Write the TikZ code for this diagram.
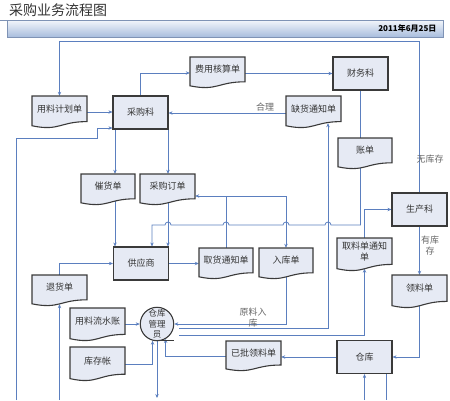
\documentclass[tikz,border=0pt]{standalone}
\usepackage{fontspec}
\newfontfamily\cjk{Noto Sans CJK SC}
\usetikzlibrary{arrows.meta,calc,backgrounds}
\definecolor{conn}{HTML}{5B7FBF}
\definecolor{nfill}{HTML}{E6EAF4}
\definecolor{nline}{HTML}{3A3A3A}
\definecolor{bantop}{HTML}{F3F6FB}
\definecolor{banbot}{HTML}{A8BDDD}
\definecolor{banline}{HTML}{7F93B5}
\tikzset{
 every node/.style={font=\cjk\fontsize{9}{11}\selectfont, text=black!80, align=center},
 boxnode/.style={draw=nline, fill=nfill, line width=1.1pt, minimum width=55pt, minimum height=33pt, inner sep=0pt},
 docfill/.style={draw=nline, fill=nfill, line width=1.1pt},
 docnode/.style={inner sep=0pt},
 arr/.style={draw=conn, line width=0.8pt, -{Stealth[length=4pt,width=3.4pt]}},
 lin/.style={draw=conn, line width=0.8pt},
 lbl/.style={text=black!60, align=center},
}
\newcommand\docshape[6]{%
 \pgfmathsetmacro\dcW{#4-#2}%
 \pgfmathsetmacro\dcH{#5-#3}%
 \path[docfill] (#2,#3) -- (#4,#3) -- ({#4},{#3+0.8*\dcH}) .. controls ({#2+0.5*\dcW},{#3+0.8*\dcH}) and ({#2+0.5*\dcW},{#3+1.11*\dcH}) .. ({#2},{#3+0.93*\dcH}) -- cycle;
 \node[docnode, minimum width=\dcW pt, minimum height=\dcH pt] (#1) at ({(#2+#4)/2},{(#3+#5)/2}) {};
 \node (#1t) at ({(#2+#4)/2},{#3+0.4*\dcH}) {#6};
}
\begin{document}
\begin{tikzpicture}[x=1pt,y=-1pt]
\useasboundingbox (0,0) rectangle (450,400);
% header
\node[font=\cjk\fontsize{14}{16}\selectfont, anchor=west, inner sep=0pt] (title) at (9,10) {采购业务流程图};
\shade[top color=bantop,bottom color=banbot] (7,20) rectangle (443,37);
\draw[banline, line width=0.6pt] (7,20) rectangle (443,37);
\draw[banline, line width=0.6pt] (0,20) -- (7,20);
\node[font=\cjk\bfseries\fontsize{8}{10}\selectfont, anchor=east, text=black] (date) at (440,28.5) {2011年6月25日};

% process boxes
\node[boxnode] (cgk) at (140.5,112.5) {采购科};
\node[boxnode] (cwk) at (360.5,73.5) {财务科};
\node[boxnode] (gys) at (141,263.5) {供应商};
\node[boxnode] (sck) at (419.5,209.5) {生产科};
\node[boxnode] (ck) at (364.5,357) {仓库};
\node[circle, draw=nline, fill=nfill, line width=1.1pt, minimum size=32pt, inner sep=0pt, font=\cjk\fontsize{8.5}{10.5}\selectfont] (gly) at (157,324) {仓库\\管理\\员};
\draw[nline, line width=1pt] (161,340.5) -- (174,340.5);

% documents
\docshape{yljh}{32}{96}{87}{128}{用料计划单}
\docshape{fyhs}{190}{57}{245}{88}{费用核算单}
\docshape{qhtz}{286}{96}{341}{128}{缺货通知单}
\docshape{zd}{338}{138}{392}{169}{账单}
\docshape{chd}{81}{174}{135}{205}{催货单}
\docshape{cgdd}{140}{174}{195}{205}{采购订单}
\docshape{qhtzd}{199}{248}{253}{279}{取货通知单}
\docshape{rkd}{259}{248}{313}{279}{入库单}
\docshape{thd}{32}{275}{87}{306}{退货单}
\docshape{ylls}{70}{308}{125}{341}{用料流水账}
\docshape{kcz}{70}{347}{125}{381}{库存帐}
\docshape{ypll}{226}{341}{281}{371}{已批领料单}
\docshape{qltz}{337}{238}{392}{271}{取料单通知\\单}
\docshape{lld}{392}{275}{447}{308}{领料单}

% labels
\node[lbl] (lhl) at (265,107) {合理};
\node[lbl] (lwkc) at (430,159) {无库存};
\node[lbl] (lykc) at (430,246) {有库\\存};
\node[lbl] (lylrk) at (253,318) {原料入\\库};

% free ends
\coordinate (bl1) at (16,400);
\coordinate (bl2) at (59.5,400);
\coordinate (c1) at (179,328);
\coordinate (c2) at (179,335);
\coordinate (qa) at ($(qhtz.south)+(14.5,-5)$);
\coordinate (qb) at ($(qltz.south)+(0,-2.5)$);
\coordinate (ta) at ($(thd.south)+(0,-2)$);

\begin{pgfonlayer}{background}
\draw[arr] (sck.center) -- (sck.center |- 0,41) -- (yljh.north |- 0,41) -- (yljh.north);
\draw[arr] (yljh.center) -- (cgk.west |- yljh.center);
\draw[arr] (cgk.center) |- (fyhs.west |- 0,73);
\draw[arr] (fyhs.center |- cwk.west) -- (cwk.west);
\draw[arr] (qhtz.center |- 0,113) -- (cgk.east |- 0,113);
\draw[arr] (cwk.center) -- (cwk.center |- 0,225) -- (331,225) arc[start angle=0,end angle=180,radius=3pt] -- (289,225) arc[start angle=0,end angle=180,radius=3pt] -- (229,225) arc[start angle=0,end angle=180,radius=3pt] -- (171,225) arc[start angle=0,end angle=180,radius=3pt] -- (152,225) -- (gys.north -| 152,0);
\draw[arr] (bl1) -- (16,138) -- (97,138) -- (97,128) -- (cgk.west |- 0,128);
\draw[arr] (cgk.center -| 115,0) -- (chd.north -| 115,0);
\draw[arr] (cgk.center -| 168,0) -- (cgdd.north -| 168,0);
\draw[arr] (chd.center -| 115,0) -- (gys.north -| 115,0);
\draw[arr] (cgdd.center -| 168,0) -- (gys.north -| 168,0);
\draw[arr] (gys.center) -- (qhtzd.west |- gys.center);
\draw[arr] (qhtzd.center) -- (qhtzd.center |- 0,196) -- (cgdd.east |- 0,196);
\draw[arr] (qhtzd.center |- 0,196) -- (rkd.center |- 0,196) -- (rkd.north);
\draw[arr] (thd.center) |- (gys.west);
\draw[arr] (bl2) -- (ta);
\draw[arr] (ylls.center |- gly.west) -- (gly.west);
\draw[arr] (kcz.center) -| (gly.255);
\draw[arr] (ypll.center) -| (gly.300);
\draw[arr] (gly.south) -- (gly.south |- 0,398);
\draw[arr] (rkd.center) |- (gly.east);
\draw[arr] (c1) -| (qa);
\draw[arr] (c2) -| (qb);
\draw[arr] (qltz.center) |- (sck.west);
\draw[arr] (sck.center) -- (lld.north);
\draw[arr] (lld.center) |- (ck.east);
\draw[arr] (ck.center) -- (ypll.east |- ck.center);
\draw[arr] (ck.south |- 0,400) -- (ck.south);
\draw[lin] (ck.center -| 386,0) -- (386,400);
\end{pgfonlayer}
\end{tikzpicture}
\end{document}
